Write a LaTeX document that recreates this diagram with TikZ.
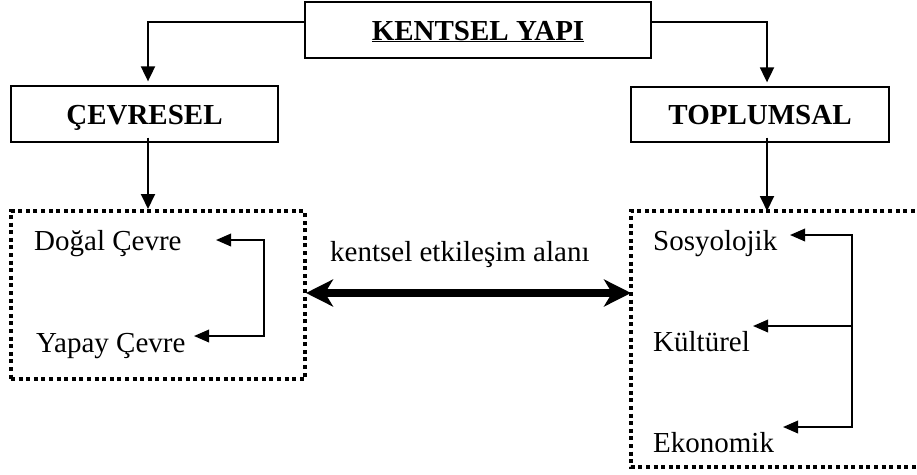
\documentclass[tikz,border=0pt]{standalone}
\usepackage{fontspec}
\setmainfont{Liberation Serif}
\usetikzlibrary{arrows.meta}
\tikzset{
  every node/.style={font=\fontsize{29}{34}\selectfont, inner sep=0pt},
  headbox/.style={draw, line width=1.3pt, text height=20pt, text depth=0pt,
    font=\fontsize{29}{34}\selectfont\bfseries},
  dotted frame/.style={draw, line width=4pt, dash pattern=on 4pt off 3.6pt},
  item/.style={anchor=base west},
  link/.style={line width=1.9pt, -{Triangle[length=15pt,width=14pt]}},
  sublink/.style={line width=1.9pt},
  smalltip/.tip={Triangle[length=15pt,width=12.5pt]},
  bigtip/.tip={Stealth[length=27pt,width=27pt,inset=8pt]},
  bigarrow/.style={line width=8.5pt, bigtip-bigtip}
}
\begin{document}
\begin{tikzpicture}[x=1pt,y=-1pt]
\useasboundingbox (0,0) rectangle (917,474);

% heading boxes
\node[headbox, minimum width=346pt, minimum height=56pt] (top) at (478,30) {\underline{KENTSEL YAPI}};
\node[headbox, minimum width=267pt, minimum height=56pt] (env) at (144.5,114) {ÇEVRESEL};
\node[headbox, minimum width=258pt, minimum height=55pt] (soc) at (760,114.5) {TOPLUMSAL};

% left group (closed dotted frame)
\node[dotted frame, minimum width=294pt, minimum height=168pt] (envbox) at (158,295) {};
\node[item] (dogal) at (34,250) {Doğal Çevre};
\node[item] (yapay) at (36,352) {Yapay Çevre};

% right group (frame runs off the right edge)
\coordinate (socNW) at (631,211);
\coordinate (socSW) at (631,467);
\draw[dotted frame] (930,211) -- (socNW) -- (socSW) -- (930,467);
\node[item] (sosyo) at (653,250) {Sosyolojik};
\node[item] (kultur) at (653,351) {Kültürel};
\node[item] (ekono) at (653,452) {Ekonomik};

% top-down links
\draw[link, shorten >=4pt] ([yshift=8pt]top.west) -| ([xshift=3.5pt]env.north);
\draw[link, shorten >=4pt] ([yshift=8pt]top.east) -| ([xshift=7pt]soc.north);
\draw[link] ([xshift=3.5pt,yshift=5pt]env.south) -- ([xshift=3.5pt]env.south |- envbox.north);
\draw[link] ([xshift=7pt,yshift=5pt]soc.south) -- ([xshift=7pt]soc.south |- socNW);

% interaction between the two groups
\coordinate (linkL) at (306,293);
\coordinate (linkR) at (631,293);
\draw[bigarrow] (linkL) -- (linkR);
\node[item] (inter) at (330,261) {kentsel etkileşim alanı};

% internal links, left group
\coordinate (dogTip) at (216,240);
\coordinate (yapTip) at (194,336);
\draw[sublink, smalltip-smalltip] (dogTip) -- (264,240) -- (264,336) -- (yapTip);

% internal links, right group
\coordinate (sosTip) at (790,235);
\coordinate (kulTip) at (753,326);
\coordinate (ekoTip) at (783,427);
\coordinate (kulJoin) at (852,326);
\draw[sublink, smalltip-smalltip] (sosTip) -- (852,235) -- (852,427) -- (ekoTip);
\draw[sublink, -smalltip] (kulJoin) -- (kulTip);
\end{tikzpicture}
\end{document}
